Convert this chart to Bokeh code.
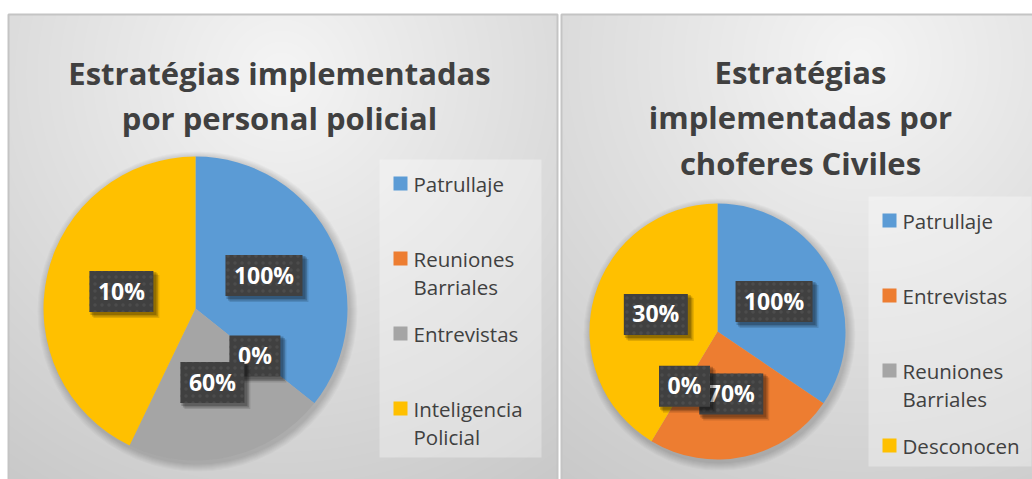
import numpy as np
from bokeh.plotting import figure
from bokeh.models import Range1d
from bokeh.embed import file_html
from bokeh.resources import INLINE
from bokeh.core.properties import value

# ---------------- data ----------------
left_title = ["Estratégias implementadas", "por personal policial"]
left_categories = ["Patrullaje", "Reuniones Barriales", "Entrevistas", "Inteligencia Policial"]
left_values = [100, 0, 60, 120]
left_labels = ["100%", "0%", "60%", "10%"]

right_title = ["Estratégias", "implementadas por", "choferes Civiles"]
right_categories = ["Patrullaje", "Entrevistas", "Reuniones Barriales", "Desconocen"]
right_values = [100, 70, 0, 120]
right_labels = ["100%", "70%", "0%", "30%"]

left_colors = {
    "Patrullaje": "#5B9BD5",
    "Reuniones Barriales": "#ED7D31",
    "Entrevistas": "#A5A5A5",
    "Inteligencia Policial": "#FFC000",
}
right_colors = {
    "Patrullaje": "#5B9BD5",
    "Entrevistas": "#ED7D31",
    "Reuniones Barriales": "#A5A5A5",
    "Desconocen": "#FFC000",
}

FONT = "Open Sans"
W, H = 1032, 479


def sy(y):
    """screen y (page px) -> data y"""
    return H - y


p = figure(width=W, height=H, output_backend="svg", toolbar_location=None,
           x_range=Range1d(0, W), y_range=Range1d(0, H),
           x_axis_type=None, y_axis_type=None, min_border=0,
           background_fill_color="white", border_fill_color="white")
p.outline_line_color = None
p.grid.visible = False


def panel_image(x0, x1, y0, y1, gx, gy, slope=0.09):
    w, h = x1 - x0, y1 - y0
    xs = np.arange(w) + x0 + 0.5
    ys = np.arange(h) + y0 + 0.5
    X, Y = np.meshgrid(xs, ys)
    d = np.sqrt((X - gx) ** 2 + (Y - gy) ** 2)
    v = np.clip(245 - slope * d, 196, 250).astype(np.uint8)
    img = np.empty((h, w), dtype=np.uint32)
    view = img.view(dtype=np.uint8).reshape((h, w, 4))
    view[..., 0] = v
    view[..., 1] = v
    view[..., 2] = v
    view[..., 3] = 255
    p.image_rgba(image=[np.flipud(img)], x=x0, y=sy(y1), dw=w, dh=h)
    p.line(x=[x0, x0, x1, x1], y=[sy(y1), sy(y0), sy(y0), sy(y1)],
           line_color="#c4c4c4", line_width=2)


def draw_chart(title_lines, title_cx, title_base, title_step,
               cats, vals, labels, cmap, cx, cy, R,
               leg_box, leg_x, leg_y0, leg_step):
    # title
    for i, t in enumerate(title_lines):
        p.text(x=[title_cx], y=[sy(title_base + i * title_step)], text=[t],
               text_font=value(FONT), text_font_style="bold", text_font_size="31px",
               text_color="#404040", text_align="center", text_baseline="alphabetic")

    # legend box
    lx0, lx1, ly0, ly1 = leg_box
    p.quad(left=[lx0], right=[lx1], top=[sy(ly0)], bottom=[sy(ly1)],
           fill_color="white", fill_alpha=0.32, line_color=None)
    for i, c in enumerate(cats):
        yc = leg_y0 + i * leg_step
        p.rect(x=[leg_x + 7], y=[sy(yc)], width=14, height=14,
               fill_color=cmap[c], line_color=None)
        for j, part in enumerate(c.split(" ")):
            p.text(x=[leg_x + 20], y=[sy(yc + j * 28)], text=[part],
                   text_font=value(FONT), text_font_size="20.5px",
                   text_color="#404040", text_align="left", text_baseline="middle")

    # pie shadow
    for k in range(1, 9):
        p.circle(x=[cx + 2], y=[sy(cy + 3)], radius=R + k,
                 fill_color="black", fill_alpha=0.025, line_color=None)

    total = float(sum(vals))
    frac = np.array(vals, dtype=float) / total
    cum = np.concatenate([[0.0], np.cumsum(frac)])
    for i, c in enumerate(cats):
        if vals[i] <= 0:
            continue
        a0 = np.pi / 2 - cum[i] * 2 * np.pi
        a1 = np.pi / 2 - cum[i + 1] * 2 * np.pi
        p.wedge(x=[cx], y=[sy(cy)], radius=R, start_angle=a0, end_angle=a1,
                direction="clock", fill_color=cmap[c], line_color=None)

    # data labels
    for i, lab in enumerate(labels):
        th = (cum[i] + frac[i] / 2) * 2 * np.pi
        lx = cx + 0.5 * R * np.sin(th)
        ly = sy(cy) + 0.5 * R * np.cos(th)
        ndig = len(lab) - 1
        bw = 13 * ndig + 19 + 19
        bh = 41
        for off, al in [(5, 0.12), (3.5, 0.18), (2, 0.2)]:
            p.rect(x=[lx + off], y=[ly - off], width=bw + 2, height=bh + 2,
                   fill_color="black", fill_alpha=al, line_color=None)
        p.rect(x=[lx], y=[ly], width=bw, height=bh, fill_color="#404040",
               line_color=None, hatch_pattern="dot", hatch_color="#4c4c4c",
               hatch_scale=7, hatch_weight=1.5)
        p.text(x=[lx], y=[ly + 1], text=[lab], text_font=value(FONT),
               text_font_style="bold", text_font_size="23px", text_color="white",
               text_align="center", text_baseline="middle")


panel_image(8, 557, 14, 480, 281, 74)
panel_image(561, 1033, 14, 480, 860, 60, slope=0.085)

draw_chart(left_title, 279, 72, 45,
           left_categories, left_values, left_labels, left_colors,
           195, 308, 152,
           (379, 541, 159, 457), 393, 183, 75)

draw_chart(right_title, 800, 71, 45.5,
           right_categories, right_values, right_labels, right_colors,
           717, 331, 128,
           (868, 1031, 196, 466), 882, 220, 75)

open("out.html", "w").write(file_html(p, INLINE))
